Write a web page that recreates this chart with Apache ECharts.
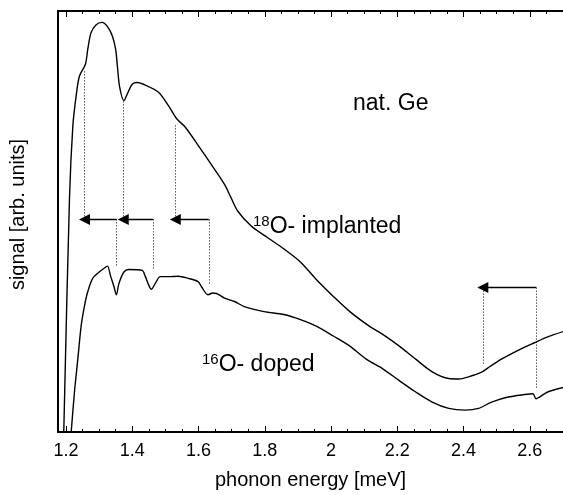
<!DOCTYPE html>
<html>
<head>
<meta charset="utf-8">
<script src="https://cdn.jsdelivr.net/npm/echarts@6/dist/echarts.min.js"></script>
<style>
  html, body { margin: 0; padding: 0; background: #fff; }
  #chart { width: 563px; height: 495px; }
</style>
</head>
<body>
<div id="chart"></div>
<script>
// 18O implanted sample (upper trace)
const upperEnergy = [1.1934, 1.2107, 1.2209, 1.2307, 1.2406, 1.2585, 1.2657, 1.2755, 1.2904, 1.3084,
  1.3254, 1.3403, 1.3501, 1.3552, 1.3621, 1.3749, 1.3851, 1.4000, 1.4149, 1.4397, 1.4794, 1.5093,
  1.5343, 1.5591, 1.5988, 1.6388, 1.6785, 1.6985, 1.7182, 1.7582, 1.8078, 1.8576, 1.9075, 1.9570,
  2.0069, 2.0567, 2.1164, 2.1561, 2.2060, 2.2555, 2.3054, 2.3552, 2.3851, 2.4149, 2.4546, 2.4746,
  2.5143, 2.5540, 2.6137, 2.6537, 2.7024]
const upperSignal = [0, 55.6, 72.8, 79.8, 84.5, 87.3, 90.8, 94.8, 96.7, 97.3,
  96.3, 94.0, 90.8, 86.9, 81.9, 78.7, 80.3, 82.6, 83.0, 82.4, 80.7, 77.5,
  74.4, 72.5, 68.1, 63.5, 58.8, 55.6, 52.5, 49.0, 46.2, 43.5, 40.4, 36.1,
  32.2, 28.6, 25.1, 23.2, 20.4, 17.3, 14.3, 12.7, 12.6, 13.1, 14.2, 15.3,
  17.3, 19.0, 21.2, 22.6, 23.9]

// 16O doped sample (lower trace)
const lowerEnergy = [1.2158, 1.2257, 1.2358, 1.2457, 1.2555, 1.2657, 1.2806, 1.3003, 1.3203, 1.3254,
  1.3352, 1.3451, 1.3522, 1.3600, 1.3749, 1.3899, 1.4299, 1.4397, 1.4496, 1.4576, 1.4696, 1.4845,
  1.5093, 1.5391, 1.5690, 1.5988, 1.6090, 1.6287, 1.6427, 1.6546, 1.6785, 1.7084, 1.7382, 1.7979,
  1.8576, 1.9075, 1.9570, 2.0069, 2.0567, 2.1063, 2.1561, 2.2060, 2.2555, 2.3054, 2.3552, 2.4048,
  2.4448, 2.4845, 2.5343, 2.5839, 2.6090, 2.6188, 2.6290, 2.6537, 2.7024]
const lowerSignal = [0, 9.5, 17.3, 25.1, 29.8, 33.3, 36.5, 38.0, 39.2, 39.4,
  36.9, 34.5, 32.6, 35.3, 38.0, 38.6, 38.4, 36.9, 34.9, 33.9, 35.3, 36.9,
  36.9, 37.0, 36.5, 35.7, 34.5, 32.6, 33.0, 32.9, 31.8, 31.0, 29.8, 28.6,
  27.9, 26.7, 25.1, 22.8, 20.4, 17.3, 15.0, 12.2, 9.5, 7.1, 5.6, 5.2,
  5.6, 7.1, 8.3, 8.9, 9.1, 7.9, 8.3, 9.5, 10.6]

// isotope shift arrows: 16O line -> 18O line
const arrowFrom = [1.353, 1.463, 1.631, 2.619]
const arrowTo = [1.256, 1.373, 1.530, 2.458]
const arrowLevel = [50.5, 50.5, 50.5, 34.3]
const fromDropTo = [39.2, 38.6, 35.1, 10.3]   // dotted guide down to 16O trace
const toDropTo = [85.8, 78.7, 73.0, 15.9]     // dotted guide to 18O trace

const majorTicks = [1.2, 1.4, 1.6, 1.8, 2.0, 2.2, 2.4, 2.6]
const minorTicks = [1.25, 1.3, 1.35, 1.45, 1.5, 1.55, 1.65, 1.7, 1.75, 1.85, 1.9, 1.95,
  2.05, 2.1, 2.15, 2.25, 2.3, 2.35, 2.45, 2.5, 2.55, 2.65]

const X_MIN = 1.176, X_MAX = 2.7
const FONT = 'Liberation Sans, Arial, Helvetica, sans-serif'

const zip = (xs, ys) => xs.map((x, i) => [x, ys[i]])

function tickAxis(position, values, len, withLabels) {
  return {
    type: 'value', position: position, min: X_MIN, max: X_MAX,
    axisLine: { show: true, lineStyle: { color: '#000', width: 2 } },
    axisTick: { show: true, inside: true, length: len, customValues: values,
      lineStyle: { color: '#000', width: 1 } },
    axisLabel: withLabels ? {
      show: true, customValues: values, margin: 10, color: '#000',
      fontSize: 18, fontFamily: FONT,
      formatter: v => String(Math.round(v * 10) / 10)
    } : { show: false },
    splitLine: { show: false }
  }
}

const xAxes = [
  tickAxis('bottom', majorTicks, 6, true),
  tickAxis('bottom', minorTicks, 3, false),
  tickAxis('top', majorTicks, 6, false),
  tickAxis('top', minorTicks, 3, false)
]
xAxes[0].name = 'phonon energy [meV]'
xAxes[0].nameLocation = 'middle'
xAxes[0].nameGap = 38
xAxes[0].nameTextStyle = { fontSize: 20, fontFamily: FONT, color: '#000' }

const arrows = arrowFrom.map((x, i) => ({ coords: [[x, arrowLevel[i]], [arrowTo[i], arrowLevel[i]]] }))
const guides = []
arrowFrom.forEach((x, i) => {
  guides.push({ coords: [[x, arrowLevel[i]], [x, fromDropTo[i]]] })
  guides.push({ coords: [[arrowTo[i], arrowLevel[i]], [arrowTo[i], toDropTo[i]]] })
})

const supRich = {
  s: { fontSize: 15, fontFamily: FONT, verticalAlign: 'top', lineHeight: 26 },
  m: { fontSize: 23, fontFamily: FONT, lineHeight: 26 }
}

const chart = echarts.init(document.getElementById('chart'), null, { renderer: 'canvas' })
chart.setOption({
  animation: false,
  backgroundColor: '#fff',
  grid: { left: 52, right: 0, top: 11, bottom: 58, containLabel: false },
  xAxis: xAxes,
  yAxis: {
    type: 'value', min: 0, max: 100,
    name: 'signal [arb. units]', nameLocation: 'middle', nameGap: 30,
    nameTextStyle: { fontSize: 20, fontFamily: FONT, color: '#000', padding: [0, 0, 0, 14] },
    axisLine: { show: true, lineStyle: { color: '#000', width: 2 } },
    axisTick: { show: false }, axisLabel: { show: false }, splitLine: { show: false }
  },
  series: [
    {
      type: 'line', name: '18O implanted', data: zip(upperEnergy, upperSignal),
      showSymbol: false, smooth: 0.3, clip: true,
      lineStyle: { color: '#000', width: 1.4 }
    },
    {
      type: 'line', name: '16O doped', data: zip(lowerEnergy, lowerSignal),
      showSymbol: false, smooth: 0.3, clip: true,
      lineStyle: { color: '#000', width: 1.4 }
    },
    {
      type: 'lines', coordinateSystem: 'cartesian2d', data: guides,
      symbol: 'none', lineStyle: { color: '#000', width: 1, type: [1, 2], opacity: 1 }
    },
    {
      type: 'lines', coordinateSystem: 'cartesian2d', data: arrows,
      symbol: ['none', 'triangle'], symbolSize: [7, 11],
      lineStyle: { color: '#000', width: 1.4, opacity: 1 },
      itemStyle: { color: '#000' }
    }
  ],
  graphic: [
    { type: 'text', left: 353, top: 92, style: { text: 'nat. Ge', fontSize: 23, fontFamily: FONT, fill: '#000' } },
    { type: 'text', left: 253, top: 214, style: { text: '{s|18}{m|O- implanted}', rich: supRich, fill: '#000' } },
    { type: 'text', left: 202, top: 352, style: { text: '{s|16}{m|O- doped}', rich: supRich, fill: '#000' } }
  ]
})
</script>
</body>
</html>
